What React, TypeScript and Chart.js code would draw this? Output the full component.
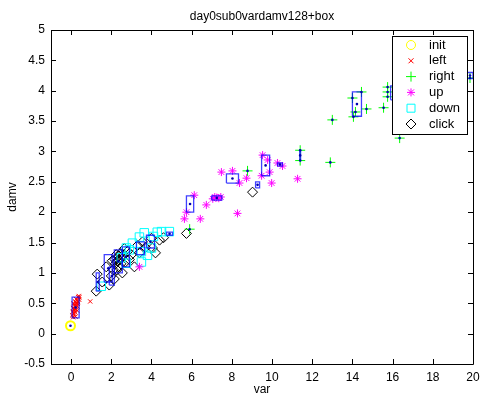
import React, { useEffect, useRef } from 'react';
import { Chart, registerables } from 'chart.js';

Chart.register(...registerables);

const titleText = 'day0sub0vardamv128+box';
const xLabel = 'var';
const yLabel = 'damv';
const xTicks = [0, 2, 4, 6, 8, 10, 12, 14, 16, 18, 20];
const yTicks = [-0.5, 0, 0.5, 1, 1.5, 2, 2.5, 3, 3.5, 4, 4.5, 5];
const xMin = -1;
const xMax = 20;
const yMin = -0.5;
const yMax = 5;

const seriesNames = ['init', 'left', 'right', 'up', 'down', 'click'];

const initPts: number[][] = [[-0.03, 0.13]];

const leftPts: number[][] = [
  [0.1, 0.27], [0.15, 0.3], [0.12, 0.33], [0.2, 0.35], [0.18, 0.38], [0.25, 0.4],
  [0.1, 0.42], [0.22, 0.44], [0.3, 0.45], [0.15, 0.48], [0.28, 0.5], [0.35, 0.52],
  [0.2, 0.53], [0.3, 0.55], [0.4, 0.56], [0.25, 0.57], [0.35, 0.6], [0.42, 0.6],
  [0.38, 0.62], [0.12, 0.5], [0.08, 0.36], [0.3, 0.38], [0.05, 0.3], [0.22, 0.28],
  [0.17, 0.41], [0.27, 0.47], [0.33, 0.49], [0.14, 0.39], [0.24, 0.51], [0.19, 0.46],
  [0.95, 0.53],
];

const rightPts: number[][] = [
  [5.9, 1.72], [8.78, 2.68], [11.4, 3.02], [11.4, 2.85], [12.9, 2.82], [13.0, 3.52],
  [14.0, 3.88], [14.45, 3.98], [14.15, 3.65], [14.05, 3.57], [14.7, 3.7], [15.55, 3.72],
  [15.75, 4.06], [15.75, 3.98], [15.75, 3.9], [16.35, 3.22], [19.85, 4.21],
];

const upPts: number[][] = [
  [3.4, 1.1], [5.64, 1.89], [5.74, 2.0], [6.13, 2.28], [6.43, 1.89], [6.73, 2.12],
  [7.05, 2.22], [7.15, 2.25], [7.25, 2.24], [7.35, 2.23], [7.45, 2.25], [7.48, 2.66],
  [8.03, 2.68], [8.38, 2.48], [8.73, 2.56], [8.28, 1.98], [9.53, 2.94], [9.78, 2.86],
  [9.88, 2.66], [9.48, 2.6], [9.98, 2.48], [10.27, 2.81], [10.52, 2.76], [11.27, 2.55],
];

const downPts: number[][] = [
  [1.5, 0.78], [2.5, 1.25], [2.75, 1.16], [2.75, 1.41], [2.9, 1.38], [3.05, 1.49],
  [3.4, 1.59], [3.5, 1.18], [3.5, 1.35], [3.64, 1.66], [3.8, 1.29], [4.0, 1.41],
  [4.1, 1.6], [4.29, 1.67], [4.5, 1.68], [4.89, 1.68],
];

const clickPts: number[][] = [
  [1.3, 0.98], [1.25, 0.7], [1.55, 0.85], [1.75, 1.1], [1.9, 0.8], [2.0, 0.95],
  [2.05, 1.2], [2.1, 1.05], [2.15, 0.9], [2.2, 1.15], [2.25, 1.3], [2.3, 1.2],
  [2.35, 1.1], [2.4, 1.21], [2.45, 1.32], [2.5, 1.25], [2.55, 1.0], [2.6, 1.3],
  [2.65, 1.4], [2.7, 1.18], [2.8, 1.35], [2.9, 1.22], [3.0, 1.3], [3.15, 1.1],
  [3.3, 1.45], [3.4, 1.33], [3.55, 1.51], [3.7, 1.42], [4.0, 1.57], [4.05, 1.41],
  [4.2, 1.33], [4.4, 1.54], [4.6, 1.58], [5.74, 1.65], [9.03, 2.33],
  [2.28, 1.05], [2.38, 1.28], [2.18, 1.22], [2.48, 1.15],
];

// boxes: [xLow, xHigh, yLow, yHigh]
const boxes: number[][] = [
  [0.05, 0.4, 0.26, 0.6],
  [1.25, 1.4, 0.7, 1.0],
  [1.9, 2.15, 0.8, 1.1],
  [1.65, 2.05, 0.85, 1.3],
  [2.15, 2.55, 1.0, 1.38],
  [2.55, 2.9, 1.1, 1.43],
  [3.25, 3.65, 1.3, 1.51],
  [3.75, 4.15, 1.41, 1.62],
  [4.75, 5.05, 1.62, 1.67],
  [5.74, 6.1, 2.0, 2.27],
  [7.0, 7.5, 2.2, 2.27],
  [7.73, 8.33, 2.48, 2.63],
  [9.18, 9.38, 2.4, 2.5],
  [9.48, 9.88, 2.6, 2.94],
  [10.27, 10.52, 2.76, 2.81],
  [11.38, 11.42, 2.85, 3.02],
  [14.0, 14.45, 3.58, 3.98],
  [15.9, 16.6, 3.85, 4.08],
  [19.7, 20.0, 4.2, 4.3],
];

const FONT = '"Liberation Sans", Arial, sans-serif';
const toXY = (p: number[][]) => p.map(([x, y]) => ({ x, y }));

const overlay = {
  id: 'matlabOverlay',
  afterDraw(chart: any) {
    const { ctx, chartArea: a, scales } = chart;
    const xs = scales.x;
    const ys = scales.y;
    ctx.save();
    ctx.strokeStyle = '#000';
    ctx.lineWidth = 1;
    ctx.beginPath();
    ctx.rect(Math.round(a.left) + 0.5, Math.round(a.top) + 0.5, Math.round(a.right - a.left), Math.round(a.bottom - a.top));
    ctx.stroke();
    ctx.beginPath();
    const tl = 5;
    xTicks.forEach((v) => {
      const px = Math.round(xs.getPixelForValue(v)) + 0.5;
      ctx.moveTo(px, a.bottom);
      ctx.lineTo(px, a.bottom - tl);
      ctx.moveTo(px, a.top);
      ctx.lineTo(px, a.top + tl);
    });
    yTicks.forEach((v) => {
      const py = Math.round(ys.getPixelForValue(v)) + 0.5;
      ctx.moveTo(a.left, py);
      ctx.lineTo(a.left + tl, py);
      ctx.moveTo(a.right, py);
      ctx.lineTo(a.right - tl, py);
    });
    ctx.stroke();
    ctx.fillStyle = '#000';
    ctx.font = '12px ' + FONT;
    ctx.textAlign = 'center';
    ctx.textBaseline = 'middle';
    ctx.fillText(titleText, (a.left + a.right) / 2, 17);
    const lx = 392, ly = 36, lw = 75, lh = 98;
    ctx.fillStyle = '#fff';
    ctx.fillRect(lx, ly, lw, lh);
    ctx.strokeStyle = '#000';
    ctx.strokeRect(lx + 0.5, ly + 0.5, lw, lh);
    const colors = ['#ffff00', '#ff0000', '#00ff00', '#ff00ff', '#00ffff', '#000000'];
    seriesNames.forEach((name, i) => {
      const cy = 45 + i * 15.8;
      const cx = 411;
      ctx.strokeStyle = colors[i];
      ctx.lineWidth = 1;
      ctx.beginPath();
      if (i === 0) {
        ctx.arc(cx, cy, 4.5, 0, Math.PI * 2);
      } else if (i === 1) {
        ctx.moveTo(cx - 2.5, cy - 2.5); ctx.lineTo(cx + 2.5, cy + 2.5);
        ctx.moveTo(cx - 2.5, cy + 2.5); ctx.lineTo(cx + 2.5, cy - 2.5);
      } else if (i === 2) {
        ctx.moveTo(cx - 5, cy); ctx.lineTo(cx + 5, cy);
        ctx.moveTo(cx, cy - 5); ctx.lineTo(cx, cy + 5);
      } else if (i === 3) {
        ctx.moveTo(cx - 4, cy); ctx.lineTo(cx + 4, cy);
        ctx.moveTo(cx, cy - 4); ctx.lineTo(cx, cy + 4);
        ctx.moveTo(cx - 3, cy - 3); ctx.lineTo(cx + 3, cy + 3);
        ctx.moveTo(cx - 3, cy + 3); ctx.lineTo(cx + 3, cy - 3);
      } else if (i === 4) {
        ctx.rect(cx - 4, cy - 4, 8, 8);
      } else {
        ctx.moveTo(cx, cy - 5); ctx.lineTo(cx + 5, cy); ctx.lineTo(cx, cy + 5); ctx.lineTo(cx - 5, cy); ctx.closePath();
      }
      ctx.stroke();
      ctx.fillStyle = '#000';
      ctx.font = '13px ' + FONT;
      ctx.textAlign = 'left';
      ctx.textBaseline = 'middle';
      ctx.fillText(name, 429, cy);
    });
    ctx.restore();
  },
};

export default function App() {
  const ref = useRef<HTMLCanvasElement | null>(null);
  useEffect(() => {
    if (!ref.current) return;
    const boxSets = boxes.map(([x1, x2, y1, y2]) => ({
      label: 'box',
      data: [
        { x: x1, y: y1 }, { x: x2, y: y1 }, { x: x2, y: y2 }, { x: x1, y: y2 }, { x: x1, y: y1 },
      ],
      showLine: true,
      borderColor: 'rgba(0,0,255,0.75)',
      borderWidth: 1.3,
      pointRadius: 0,
      fill: false,
      order: 0,
    }));
    const centers = [
      ...boxes.map(([x1, x2, y1, y2]) => ({ x: (x1 + x2) / 2, y: (y1 + y2) / 2 })),
      ...toXY(rightPts),
      ...toXY(initPts),
    ];
    const mk = (label: string, pts: number[][], color: string, style: string, r: number, bw: number, order: number) => ({
      label,
      data: toXY(pts),
      pointStyle: style,
      pointRadius: r,
      borderColor: color,
      backgroundColor: 'rgba(0,0,0,0)',
      pointBorderWidth: bw,
      borderWidth: bw,
      order,
    });
    const chart = new Chart(ref.current, {
      type: 'scatter',
      data: {
        datasets: [
          {
            label: 'centers',
            data: centers,
            pointStyle: 'circle',
            pointRadius: 1.3,
            borderWidth: 0,
            backgroundColor: '#0000b0',
            order: -1,
          } as any,
          ...boxSets,
          mk(seriesNames[0], initPts, '#ffff00', 'circle', 4.5, 2, 1),
          mk(seriesNames[1], leftPts, '#ff0000', 'crossRot', 3, 1, 1),
          mk(seriesNames[2], rightPts, '#00ff00', 'cross', 5, 1, 1),
          mk(seriesNames[3], upPts, '#ff00ff', 'star', 4, 1, 1),
          mk(seriesNames[4], downPts, '#00ffff', 'rect', 6, 1, 1),
          mk(seriesNames[5], clickPts, '#000000', 'rectRot', 5, 1, 1),
        ],
      },
      options: {
        responsive: false,
        animation: false,
        events: [],
        layout: { padding: { top: 30, right: 6, left: 0, bottom: 0 } },
        plugins: {
          legend: { display: false },
          title: { display: false },
          tooltip: { enabled: false },
        },
        scales: {
          x: {
            type: 'linear',
            min: xMin,
            max: xMax,
            grid: { display: false, drawTicks: false },
            border: { display: false },
            afterBuildTicks: (s: any) => { s.ticks = xTicks.map((v) => ({ value: v })); },
            afterFit: (s: any) => { s.height = 36; s.paddingLeft = 0; s.paddingRight = 0; },
            ticks: {
              color: '#000',
              font: { family: FONT, size: 12 },
              padding: 6,
              maxRotation: 0,
              autoSkip: false,
              callback: (v: any) => String(v),
            },
            title: {
              display: true,
              text: xLabel,
              color: '#000',
              font: { family: FONT, size: 12 },
              padding: { top: 0, bottom: 3 },
            },
          },
          y: {
            type: 'linear',
            min: yMin,
            max: yMax,
            grid: { display: false, drawTicks: false },
            border: { display: false },
            afterBuildTicks: (s: any) => { s.ticks = yTicks.map((v) => ({ value: v })); },
            afterFit: (s: any) => { s.width = 51; s.paddingTop = 0; s.paddingBottom = 0; },
            ticks: {
              color: '#000',
              font: { family: FONT, size: 12 },
              padding: 6,
              autoSkip: false,
              callback: (v: any) => String(v),
            },
            title: {
              display: true,
              text: yLabel,
              color: '#000',
              font: { family: FONT, size: 12 },
              padding: { top: 5, bottom: 0 },
            },
          },
        },
      },
      plugins: [overlay],
    } as any);
    return () => chart.destroy();
  }, []);
  return (
    <div style={{ position: 'absolute', left: 0, top: 0, width: 480, height: 400, background: '#fff' }}>
      <canvas ref={ref} width={480} height={400} style={{ display: 'block' }} />
    </div>
  );
}
